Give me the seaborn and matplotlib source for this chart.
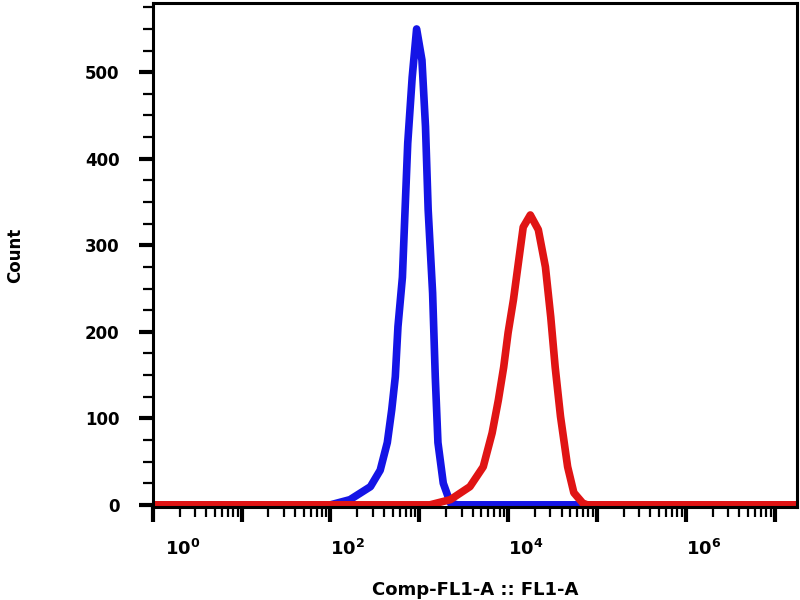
import numpy as np
import pandas as pd
import matplotlib
matplotlib.use("Agg")
import matplotlib.pyplot as plt
import matplotlib.transforms as mtransforms
import seaborn as sns
from matplotlib.ticker import FixedLocator, LogLocator, NullFormatter, MultipleLocator

# log10 of fluorescence intensity (Comp-FL1-A) and counts
blue_log = [0.0, 2.00, 2.22, 2.45, 2.56, 2.64, 2.69, 2.73, 2.76, 2.81, 2.84,
            2.87, 2.92, 2.97, 3.03, 3.07, 3.10, 3.15, 3.18, 3.21, 3.27,
            3.35, 3.43, 7.25]
blue_count = [0, 0, 6, 21, 40, 72, 110, 148, 206, 263, 341,
              418, 494, 550, 514, 437, 341, 245, 148, 72, 25,
              2, 0, 0]

red_log = [0.0, 3.12, 3.35, 3.57, 3.72, 3.82, 3.89, 3.95, 4.00, 4.06,
           4.12, 4.17, 4.25, 4.34, 4.42, 4.48, 4.53, 4.59, 4.67, 4.74,
           4.84, 4.89, 7.25]
red_count = [0, 0, 6, 21, 44, 83, 121, 159, 199, 237,
             283, 321, 335, 318, 275, 217, 159, 102, 44, 14,
             2, 0, 0]

x_label_decades = [0, 2, 4, 6]

blue_df = pd.DataFrame({"x": np.power(10.0, blue_log), "count": blue_count})
red_df = pd.DataFrame({"x": np.power(10.0, red_log), "count": red_count})

sns.set_style("ticks")
plt.rcParams["font.family"] = ["DejaVu Sans"]
plt.rcParams["text.color"] = "black"
plt.rcParams["axes.labelcolor"] = "black"
plt.rcParams["xtick.color"] = "black"
plt.rcParams["ytick.color"] = "black"

fig = plt.figure(figsize=(8, 6), dpi=100)
ax = fig.add_axes([0.191, 0.155, 0.805, 0.84])

sns.lineplot(data=blue_df, x="x", y="count", ax=ax, color="#1414e6",
             linewidth=5.5, solid_joinstyle="round", solid_capstyle="round",
             sort=False, estimator=None)
sns.lineplot(data=red_df, x="x", y="count", ax=ax, color="#e01414",
             linewidth=5.5, solid_joinstyle="round", solid_capstyle="round",
             sort=False, estimator=None)

ax.set_xscale("log")
ax.set_xlim(1, 10 ** 7.25)
ax.set_ylim(-2.5, 580)

# x ticks
ax.xaxis.set_major_locator(FixedLocator([10.0 ** d for d in range(0, 8)]))
labels = []
for d in range(0, 8):
    if d in x_label_decades:
        labels.append(r"$\mathbf{10^{%d}}$" % d)
    else:
        labels.append("")
ax.set_xticklabels(labels)
ax.xaxis.set_minor_locator(LogLocator(base=10, subs=np.arange(2, 10), numticks=100))
ax.xaxis.set_minor_formatter(NullFormatter())

# y ticks
ax.yaxis.set_major_locator(FixedLocator([0, 100, 200, 300, 400, 500]))
ax.yaxis.set_minor_locator(MultipleLocator(25))

ax.tick_params(axis="x", which="major", length=11, width=3, pad=12,
               labelsize=13, direction="out")
ax.tick_params(axis="x", which="minor", length=7, width=1.6, direction="out")
ax.tick_params(axis="y", which="major", length=10, width=3, pad=14,
               labelsize=12, direction="out")
ax.tick_params(axis="y", which="minor", length=7, width=1.6, direction="out")
for lbl in ax.get_yticklabels():
    lbl.set_fontweight("bold")
for i, lbl in enumerate(ax.get_xticklabels()):
    lbl.set_horizontalalignment("left")
    if i == 0:
        lbl.set_transform(lbl.get_transform() +
                          mtransforms.ScaledTranslation(12 / 100, 0, fig.dpi_scale_trans))

for side in ["left", "right", "top", "bottom"]:
    ax.spines[side].set_visible(True)
    ax.spines[side].set_linewidth(2.2)
    ax.spines[side].set_color("black")

ax.set_xlabel("Comp-FL1-A :: FL1-A", fontsize=13, fontweight="bold", labelpad=16)
ax.set_ylabel("Count", fontsize=12, fontweight="bold", labelpad=44)

fig.savefig("out.png", dpi=100)
